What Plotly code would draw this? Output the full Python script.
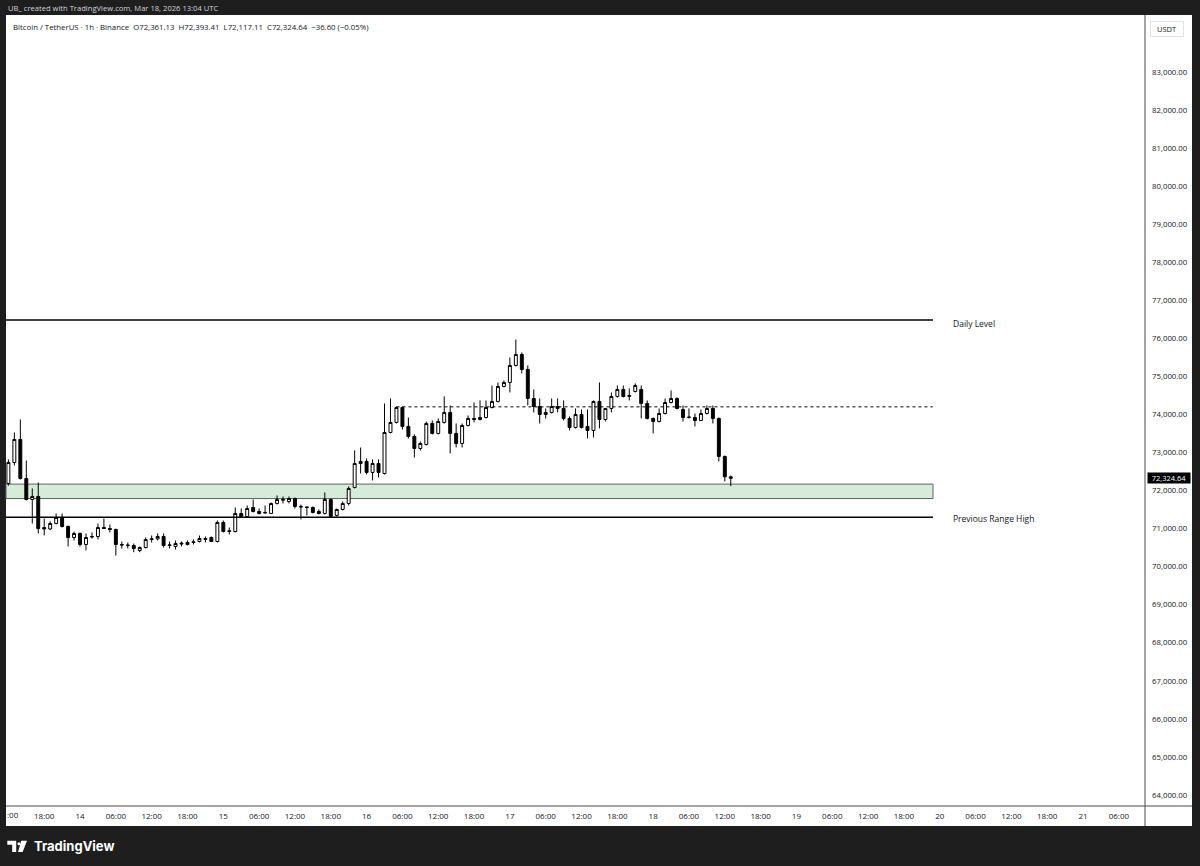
import pandas as pd
import plotly.graph_objects as go

# ---------------- data ----------------
times = pd.date_range("2026-03-13 12:00", periods=122, freq="h")

opens = [72186, 72739, 73343, 72318, 71766, 71845, 71030, 70990, 71135, 71293,
         71056, 70766, 70872, 70582, 70780, 70793, 71030, 71003, 70977, 70582,
         70570, 70556, 70425, 70503, 70714, 70730, 70793, 70556, 70530, 70620,
         70582, 70635, 70661, 70740, 70766, 70661, 71161, 70924, 70924, 71398,
         71319, 71555, 71450, 71410, 71398, 71661, 71766, 71713, 71792, 71582,
         71570, 71555, 71450, 71398, 71766, 71345, 71503, 71661, 72081, 72712,
         72765, 72476, 72712, 72449, 73527, 73790, 74184, 73685, 73422, 73106,
         73212, 73763, 73501, 73790, 74053, 73501, 73238, 73711, 73895, 73869,
         73921, 74184, 74342, 74736, 74841, 75288, 75577, 75183, 74420, 74210,
         74000, 74053, 74210, 74158, 73895, 73658, 74000, 73685, 73580, 74342,
         73869, 74158, 74473, 74657, 74473, 74604, 74657, 74289, 73895, 73816,
         74026, 74315, 74420, 74131, 73921, 73921, 73842, 74026, 74158, 73895,
         72896, 72361.13]
highs = [72818, 73527, 73869, 72790, 72055, 72213, 71266, 71190, 71398, 71398,
         71080, 70924, 70898, 70872, 70898, 71135, 71266, 71109, 71000, 70661,
         70635, 70609, 70530, 70766, 70819, 70872, 70872, 70661, 70688, 70661,
         70688, 70714, 70819, 70793, 70793, 71214, 71214, 71030, 71555, 71529,
         71608, 71766, 71529, 71608, 71687, 71871, 71845, 71845, 71818, 71634,
         71582, 71582, 71503, 71950, 71792, 71529, 71713, 72108, 73054, 73132,
         72844, 72818, 72818, 74289, 74420, 74210, 74210, 73921, 73475, 73290,
         73816, 73842, 73895, 74473, 74237, 73763, 73763, 73974, 74315, 74368,
         74368, 74762, 74841, 74894, 75498, 75971, 75630, 75288, 74657, 74420,
         74158, 74420, 74420, 74368, 73947, 74158, 74131, 74131, 74368, 74841,
         74158, 74578, 74762, 74762, 74683, 74815, 74762, 74368, 73921, 74158,
         74420, 74631, 74447, 74237, 74158, 74026, 74131, 74237, 74237, 73921,
         72920, 72393.41]
lows = [72130, 72660, 72290, 71740, 71135, 70872, 70819, 70960, 71110, 71030,
        70530, 70688, 70530, 70425, 70740, 70714, 70990, 70898, 70293, 70477,
        70477, 70380, 70380, 70477, 70635, 70688, 70503, 70477, 70450, 70530,
        70556, 70582, 70635, 70635, 70650, 70635, 70898, 70846, 70898, 71293,
        71293, 71424, 71371, 71398, 71398, 71634, 71661, 71661, 71529, 71240,
        71345, 71398, 71371, 71371, 71293, 71319, 71477, 71608, 72055, 72449,
        72423, 72265, 72344, 72423, 73501, 73763, 73606, 73369, 72870, 73054,
        73185, 73475, 73475, 73763, 72975, 73132, 73132, 73685, 73790, 73842,
        73895, 74158, 74315, 74710, 74578, 75262, 75078, 74237, 74053, 73763,
        73895, 74026, 74053, 73842, 73580, 73632, 73632, 73369, 73396, 73632,
        73816, 74053, 74447, 74447, 74368, 74578, 73895, 73869, 73501, 73790,
        74000, 74289, 74131, 73816, 73895, 73685, 73830, 74000, 73763, 72765,
        72240, 72117.11]
closes = [72739, 73343, 72318, 71766, 71845, 71003, 70990, 71135, 71293, 71056,
          70766, 70872, 70582, 70766, 70790, 71030, 71003, 70977, 70582, 70570,
          70556, 70477, 70503, 70714, 70730, 70793, 70556, 70570, 70609, 70600,
          70635, 70650, 70740, 70720, 70661, 71161, 70924, 70940, 71398, 71319,
          71529, 71450, 71398, 71424, 71661, 71766, 71750, 71792, 71582, 71570,
          71555, 71424, 71398, 71766, 71319, 71503, 71661, 72055, 72712, 72765,
          72476, 72712, 72476, 73527, 73790, 74184, 73685, 73422, 73106, 73238,
          73763, 73501, 73816, 74053, 73501, 73238, 73711, 73895, 73869, 73921,
          74184, 74342, 74736, 74841, 75288, 75577, 75183, 74420, 74210, 74000,
          74053, 74210, 74158, 73895, 73658, 74000, 73658, 73580, 74342, 73869,
          74158, 74473, 74657, 74473, 74500, 74762, 74289, 73895, 73816, 74026,
          74315, 74420, 74158, 73921, 73930, 73842, 74026, 74158, 73895, 72896,
          72361, 72324.64]

daily_level = 76480
prev_range_high = 71300
zone_low, zone_high = 71790, 72170
dotted_level = 74200
dotted_start = "2026-03-16 05:00"
last_price = 72324.64

x_tick_times = pd.date_range("2026-03-13 18:00", "2026-03-21 06:00", freq="6h")
x_tick_labels = ["18:00",
                 "14", "06:00", "12:00", "18:00",
                 "15", "06:00", "12:00", "18:00",
                 "16", "06:00", "12:00", "18:00",
                 "17", "06:00", "12:00", "18:00",
                 "18", "06:00", "12:00", "18:00",
                 "19", "06:00", "12:00", "18:00",
                 "20", "06:00", "12:00", "18:00",
                 "21", "06:00"]
edge_tick_label = ":00"   # the clipped first time label at the left edge
y_tick_values = [64000, 65000, 66000, 67000, 68000, 69000, 70000, 71000, 72000, 73000,
                 74000, 75000, 76000, 77000, 78000, 79000, 80000, 81000, 82000, 83000]

header_text = ("Bitcoin / TetherUS · 1h · Binance  O72,361.13  H72,393.41  "
               "L72,117.11  C72,324.64  −36.60 (−0.05%)")
top_text = "UB_ created with TradingView.com, Mar 18, 2026 13:04 UTC"

# ---------------- layout helpers (pixel -> paper) ----------------
W, H = 1200, 866
ML, MR, MT, MB = 6, 55, 15, 60
PW = W - ML - MR
PH = H - MT - MB


def fx(px):
    return (px - ML) / PW


def fy(py):
    return (H - MB - py) / PH


FONT = "Open Sans"
DARK = "#1e1e1e"
INK = "#131722"

fig = go.Figure()
fig.add_trace(go.Candlestick(
    x=times, open=opens, high=highs, low=lows, close=closes,
    increasing=dict(fillcolor="#ffffff", line=dict(color="#000000", width=1)),
    decreasing=dict(fillcolor="#000000", line=dict(color="#000000", width=1)),
    showlegend=False, hoverinfo="skip",
))

shapes = []
# white chart panel
shapes.append(dict(type="rect", xref="paper", yref="paper", x0=fx(6), x1=fx(1192),
                   y0=fy(826), y1=fy(15), fillcolor="#ffffff", line=dict(width=0),
                   layer="below"))
# separators
shapes.append(dict(type="line", xref="paper", yref="paper", x0=fx(1145), x1=fx(1145),
                   y0=fy(826), y1=fy(15), line=dict(color="#4a4a4a", width=1)))
shapes.append(dict(type="line", xref="paper", yref="paper", x0=fx(6), x1=fx(1192),
                   y0=fy(806), y1=fy(806), line=dict(color="#4a4a4a", width=1)))
# zone box
shapes.append(dict(type="rect", xref="paper", yref="y", x0=fx(6), x1=fx(933),
                   y0=zone_low, y1=zone_high, fillcolor="#d6ecd8",
                   line=dict(color="#5d606b", width=1), layer="below"))
# level lines
shapes.append(dict(type="line", xref="paper", yref="y", x0=fx(6), x1=fx(933),
                   y0=daily_level, y1=daily_level, line=dict(color="#000000", width=1.5)))
shapes.append(dict(type="line", xref="paper", yref="y", x0=fx(6), x1=fx(933),
                   y0=prev_range_high, y1=prev_range_high,
                   line=dict(color="#000000", width=1.5)))
shapes.append(dict(type="line", xref="x", yref="y", x0=dotted_start, x1="2026-03-19 22:50",
                   y0=dotted_level, y1=dotted_level,
                   line=dict(color="#000000", width=1, dash="dot")))


# TradingView logo
def P(x, y):
    return f"{fx(x):.5f},{fy(y):.5f}"


logo_paths = [
    f"M{P(7.3, 840.8)} L{P(16.2, 840.8)} L{P(16.2, 852)} L{P(12.2, 852)} L{P(12.2, 844.8)} L{P(7.3, 844.8)} Z",
    f"M{P(21.2, 840.8)} L{P(27.0, 840.8)} L{P(22.6, 852)} L{P(18.0, 852)} Z",
]
for p in logo_paths:
    shapes.append(dict(type="path", xref="paper", yref="paper", path=p,
                       fillcolor="#ffffff", line=dict(width=0), layer="above"))
shapes.append(dict(type="circle", xref="paper", yref="paper", x0=fx(17.4), x1=fx(20.4),
                   y0=fy(845.3), y1=fy(842.3), fillcolor="#ffffff", line=dict(width=0),
                   layer="above"))

annotations = [
    dict(xref="paper", yref="paper", x=fx(6), y=fy(8), xanchor="left", yanchor="middle",
         text=top_text, showarrow=False, font=dict(family=FONT, size=7.6, color="#d1d4dc")),
    dict(xref="paper", yref="paper", x=fx(11), y=fy(27), xanchor="left", yanchor="middle",
         text=header_text, showarrow=False, font=dict(family=FONT, size=7.8, color=INK)),
    dict(xref="paper", yref="paper", x=fx(1166.5), y=fy(29), xanchor="center", yanchor="middle",
         text="USDT", showarrow=False, font=dict(family=FONT, size=7.5, color=INK),
         width=30, height=12, bordercolor="#e0e3eb", borderwidth=1, borderpad=1,
         bgcolor="#ffffff"),
    dict(xref="paper", yref="y", x=fx(951), y=daily_level, xanchor="left", yanchor="middle",
         yshift=-3, text="Daily Level", showarrow=False,
         font=dict(family=FONT, size=8.5, color=INK)),
    dict(xref="paper", yref="y", x=fx(951), y=prev_range_high, xanchor="left",
         yanchor="middle", yshift=-1, text="Previous Range High", showarrow=False,
         font=dict(family=FONT, size=8.5, color=INK)),
    dict(xref="paper", yref="y", x=fx(1147), y=last_price, xanchor="left", yanchor="middle",
         text="72,324.64", showarrow=False, bgcolor="#000000", borderpad=0,
         width=42, height=10, align="center",
         font=dict(family=FONT, size=7.5, color="#ffffff")),
    dict(xref="paper", yref="paper", x=fx(5), y=fy(815), xanchor="left", yanchor="middle",
         text=edge_tick_label, showarrow=False, font=dict(family=FONT, size=8, color=INK)),
    dict(xref="paper", yref="paper", x=fx(32), y=fy(846), xanchor="left", yanchor="middle",
         text="<b>TradingView</b>", showarrow=False,
         font=dict(family="Inter", size=13, color="#ffffff")),
]

fig.update_layout(
    width=W, height=H,
    margin=dict(l=ML, r=MR, t=MT, b=MB, pad=0, autoexpand=False),
    paper_bgcolor=DARK, plot_bgcolor="#ffffff",
    shapes=shapes, annotations=annotations,
    showlegend=False, hovermode=False,
    font=dict(family=FONT, size=8, color=INK),
    xaxis=dict(
        type="date", range=["2026-03-13 11:36", "2026-03-21 10:23"],
        rangeslider=dict(visible=False), automargin=False,
        tickmode="array", tickvals=list(x_tick_times), ticktext=x_tick_labels,
        ticks="", showgrid=False, zeroline=False, showline=False,
        ticklabelstandoff=4,
        tickfont=dict(family=FONT, size=8, color=INK),
    ),
    yaxis=dict(
        side="right", range=[63710, 84498], automargin=False,
        tickmode="array", tickvals=y_tick_values, tickformat=",.2f",
        ticks="", showgrid=False, zeroline=False, showline=False,
        ticklabelstandoff=6,
        tickfont=dict(family=FONT, size=7.8, color=INK),
    ),
)

fig.write_html(
    "out.html",
    config={"displayModeBar": False, "staticPlot": True},
    post_script="document.body.style.margin='0';document.body.style.background='#1e1e1e';",
)
